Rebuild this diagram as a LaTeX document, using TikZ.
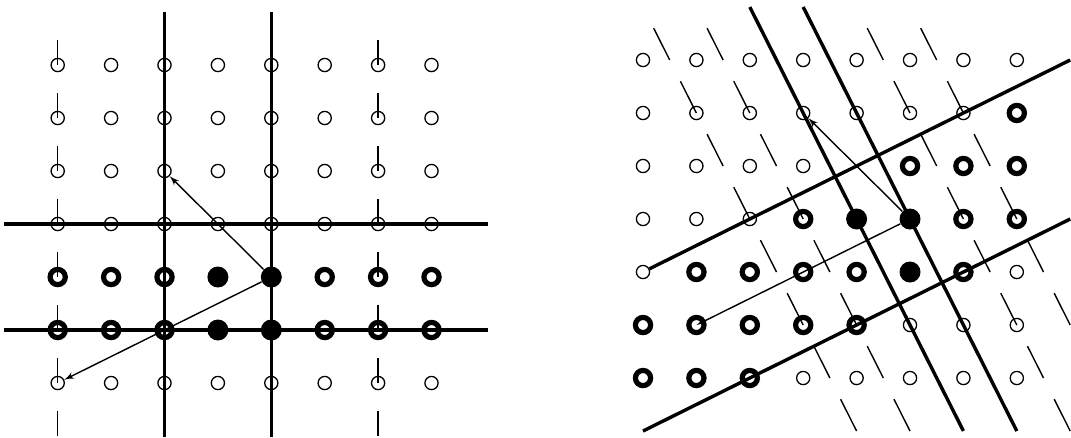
\documentclass[tikz,border=0pt]{standalone}
\usetikzlibrary{shapes,arrows,positioning,calc}

\begin{document}
\begin{tikzpicture}[x=26.7pt, y=-26.5pt]
\tikzstyle{site} = [circle, draw, line width=0.65pt, inner sep=0pt, minimum size=6.6pt]
\tikzstyle{ring} = [circle, draw, line width=2.6pt, inner sep=0pt, minimum size=7.6pt]
\tikzstyle{dot} = [circle, fill, inner sep=0pt, minimum size=10.5pt]
\tikzstyle{wall} = [draw, line width=1.7pt]
\tikzstyle{tick} = [draw, line width=0.7pt]
\tikzstyle{vec} = [draw, line width=0.7pt, -latex']

\useasboundingbox (0,0) rectangle (20.056,8.245);

% left lattice
\begin{scope}[shift={(0.0805,0.2264)}]
\foreach \c in {1,...,8}
  \foreach \r in {1,2,3,4,7}
    \node [site] (L-\c-\r) at (\c,\r) {};
\foreach \c in {1,2,3,6,7,8}
  \foreach \r in {5,6}
    \node [ring] (L-\c-\r) at (\c,\r) {};
\foreach \c in {4,5}
  \foreach \r in {5,6}
    \node [dot] (L-\c-\r) at (\c,\r) {};

\path [wall] (3,0) -- (3,8.02);
\path [wall] (5,0) -- (5,8.02);
\path [wall] (0,4) -- (9.05,4);
\path [wall] (0,6) -- (9.05,6);

\foreach \c in {1,7}
  \foreach \r in {1,...,8}
    \path [tick] (\c,{\r-0.47}) -- (\c,\r);

\path [vec] (L-5-5) -- (L-3-3);
\path [vec] (L-5-5) -- (L-1-7);
\end{scope}

% right lattice
\begin{scope}[shift={(11.041,0.132)}]
\foreach \c/\r in {1/1,2/1,3/1,4/1,5/1,6/1,7/1,8/1,
                   1/2,2/2,3/2,4/2,5/2,6/2,7/2,
                   1/3,2/3,3/3,4/3,
                   1/4,2/4,3/4,
                   1/5,8/5,
                   6/6,7/6,8/6,
                   4/7,5/7,6/7,7/7,8/7}
  \node [site] (R-\c-\r) at (\c,\r) {};
\foreach \c/\r in {8/2,6/3,7/3,8/3,4/4,7/4,8/4,
                   2/5,3/5,4/5,5/5,7/5,
                   1/6,2/6,3/6,4/6,5/6,
                   1/7,2/7,3/7}
  \node [ring] (R-\c-\r) at (\c,\r) {};
\foreach \c/\r in {5/4,6/4,6/5}
  \node [dot] (R-\c-\r) at (\c,\r) {};

\path [wall] (3,0) -- (7,8);
\path [wall] (4,0) -- (8,8);
\path [wall] (R-1-5) -- (9,1);
\path [wall] (1,8) -- (9,4);

\foreach \k/\n in {2/8,4/8,10/8,12/6}
  \foreach \r in {1,...,\n}
    \path [tick] ({(\k+\r)/2-0.3},{\r-0.6}) -- ({(\k+\r)/2},\r);

\path [vec] (R-6-4) -- (R-4-2);
\path [vec] (R-6-4) -- (R-2-6.center);
\end{scope}

\end{tikzpicture}
\end{document}
